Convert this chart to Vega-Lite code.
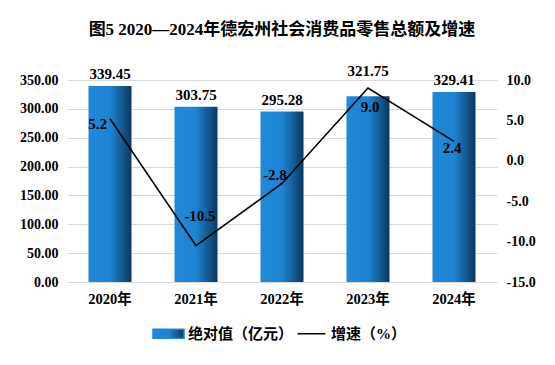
{
  "$schema": "https://vega.github.io/schema/vega-lite/v6.json",
  "width": 430,
  "height": 202,
  "autosize": {"type": "none"},
  "padding": {"left": 67, "top": 80, "right": 58, "bottom": 83},
  "background": "white",
  "title": {
    "text": "图5 2020—2024年德宏州社会消费品零售总额及增速",
    "font": "'Liberation Serif', 'Noto Sans CJK SC'",
    "fontSize": 17,
    "fontWeight": "bold",
    "color": "black",
    "anchor": "middle",
    "offset": 25
  },
  "config": {
    "view": {"stroke": null},
    "locale": {
      "number": {"decimal": ".", "thousands": ",", "grouping": [3], "currency": ["$", ""], "minus": "-"}
    },
    "axis": {
      "labelFont": "'Liberation Serif', 'Noto Sans CJK SC'",
      "labelFontWeight": "bold",
      "labelColor": "black",
      "ticks": false,
      "domain": false,
      "title": null
    }
  },
  "data": {
    "values": [
      {"year": "2020年", "value": 339.45, "growth": 5.2},
      {"year": "2021年", "value": 303.75, "growth": -10.5},
      {"year": "2022年", "value": 295.28, "growth": -2.8},
      {"year": "2023年", "value": 321.75, "growth": 9.0},
      {"year": "2024年", "value": 329.41, "growth": 2.4}
    ]
  },
  "encoding": {
    "x": {
      "field": "year",
      "type": "nominal",
      "sort": null,
      "scale": {"paddingInner": 0.5, "paddingOuter": 0.25},
      "axis": {
        "labelAngle": 0,
        "labelFontSize": 14.5,
        "labelPadding": 10,
        "domain": true,
        "domainColor": "#d9d9d9",
        "domainWidth": 1
      }
    }
  },
  "layer": [
    {
      "encoding": {
        "y": {
          "field": "value",
          "type": "quantitative",
          "scale": {"domain": [0, 350], "nice": false},
          "axis": {
            "values": [0, 50, 100, 150, 200, 250, 300, 350],
            "format": ".2f",
            "labelFontSize": 14,
            "labelPadding": 9,
            "grid": true,
            "gridColor": "#d9d9d9",
            "gridWidth": 1
          }
        }
      },
      "layer": [
        {
          "mark": {
            "type": "bar",
            "color": {
              "gradient": "linear",
              "x1": 0, "y1": 0, "x2": 1, "y2": 0,
              "stops": [
                {"offset": 0, "color": "#2089d9"},
                {"offset": 0.5, "color": "#1d84d2"},
                {"offset": 1, "color": "#0b3960"}
              ]
            }
          }
        },
        {
          "transform": [{"filter": "datum.year !== '2023年'"}],
          "mark": {
            "type": "text",
            "font": "'Liberation Serif'",
            "fontSize": 15,
            "fontWeight": "bold",
            "color": "black",
            "baseline": "middle",
            "dy": -12
          },
          "encoding": {"text": {"field": "value", "type": "quantitative", "format": ".2f"}}
        },
        {
          "transform": [{"filter": "datum.year === '2023年'"}],
          "mark": {
            "type": "text",
            "font": "'Liberation Serif'",
            "fontSize": 15,
            "fontWeight": "bold",
            "color": "black",
            "baseline": "middle",
            "dy": -25
          },
          "encoding": {"text": {"field": "value", "type": "quantitative", "format": ".2f"}}
        }
      ]
    },
    {
      "encoding": {
        "y": {
          "field": "growth",
          "type": "quantitative",
          "scale": {"domain": [-15, 10], "nice": false},
          "axis": {
            "orient": "right",
            "values": [-15, -10, -5, 0, 5, 10],
            "format": ".1f",
            "labelFontSize": 14,
            "labelPadding": 9,
            "grid": false
          }
        }
      },
      "layer": [
        {
          "mark": {"type": "line", "strokeWidth": 1.6},
          "encoding": {
            "color": {
              "datum": "增速（%）",
              "type": "nominal",
              "scale": {"domain": ["绝对值（亿元）", "增速（%）"], "range": ["#1f87d6", "black"]},
              "legend": {
                "orient": "none",
                "legendX": 85,
                "legendY": 237,
                "direction": "horizontal",
                "title": null,
                "symbolSize": 961,
                "labelFont": "'Liberation Serif', 'Noto Sans CJK SC'",
                "labelFontSize": 15,
                "labelFontWeight": "bold",
                "labelColor": "black",
                "labelOffset": 3,
                "columnPadding": 0,
                "encode": {
                  "symbols": {
                    "update": {
                      "shape": {"signal": "datum.value === '增速（%）' ? 'M-0.9,0H0.9' : 'M-1,-0.29H1V0.29H-1Z'"},
                      "fill": {"signal": "datum.value === '增速（%）' ? 'transparent' : {gradient: 'linear', x1: 0, y1: 0, x2: 1, y2: 0, stops: [{offset: 0, color: '#2089d9'}, {offset: 0.5, color: '#1d84d2'}, {offset: 1, color: '#0b3960'}]}"},
                      "stroke": {"signal": "datum.value === '增速（%）' ? 'black' : 'transparent'"},
                      "strokeWidth": {"value": 1.5},
                      "opacity": {"value": 1}
                    }
                  }
                }
              }
            }
          }
        },
        {
          "transform": [{"filter": "datum.year === '2020年'"}],
          "mark": {"type": "text", "font": "'Liberation Serif'", "fontSize": 15, "fontWeight": "bold", "color": "black", "align": "right", "baseline": "middle", "dx": -3, "dy": 5},
          "encoding": {"text": {"field": "growth", "type": "quantitative", "format": ".1f"}}
        },
        {
          "transform": [{"filter": "datum.year === '2021年'"}],
          "mark": {"type": "text", "font": "'Liberation Serif'", "fontSize": 15, "fontWeight": "bold", "color": "black", "align": "center", "baseline": "middle", "dx": 4, "dy": -30},
          "encoding": {"text": {"field": "growth", "type": "quantitative", "format": ".1f"}}
        },
        {
          "transform": [{"filter": "datum.year === '2022年'"}],
          "mark": {"type": "text", "font": "'Liberation Serif'", "fontSize": 15, "fontWeight": "bold", "color": "black", "align": "center", "baseline": "middle", "dx": -7, "dy": -8},
          "encoding": {"text": {"field": "growth", "type": "quantitative", "format": ".1f"}}
        },
        {
          "transform": [{"filter": "datum.year === '2023年'"}],
          "mark": {"type": "text", "font": "'Liberation Serif'", "fontSize": 15, "fontWeight": "bold", "color": "black", "align": "center", "baseline": "middle", "dx": 2, "dy": 19},
          "encoding": {"text": {"field": "growth", "type": "quantitative", "format": ".1f"}}
        },
        {
          "transform": [{"filter": "datum.year === '2024年'"}],
          "mark": {"type": "text", "font": "'Liberation Serif'", "fontSize": 15, "fontWeight": "bold", "color": "black", "align": "center", "baseline": "middle", "dx": -2, "dy": 7},
          "encoding": {"text": {"field": "growth", "type": "quantitative", "format": ".1f"}}
        }
      ]
    }
  ],
  "resolve": {"scale": {"y": "independent"}}
}
